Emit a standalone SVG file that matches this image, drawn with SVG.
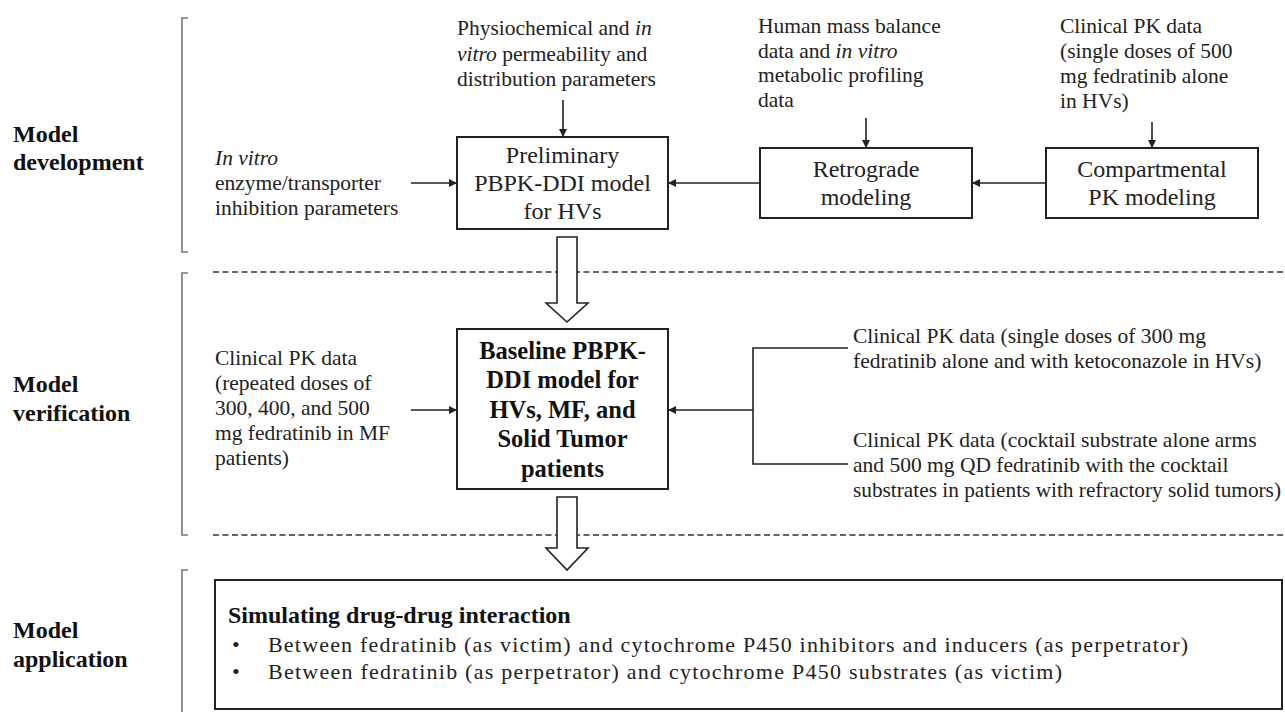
<svg xmlns="http://www.w3.org/2000/svg" width="1285" height="712" viewBox="0 0 1285 712">
<style>
.t{font-family:'Liberation Serif','Times New Roman',serif;font-size:21.5px;fill:#222}
.bt{font-family:'Liberation Serif','Times New Roman',serif;font-size:22px;fill:#222}
.bx{font-family:'Liberation Serif','Times New Roman',serif;font-size:24px;fill:#222;text-anchor:middle}
.bb{font-family:'Liberation Serif','Times New Roman',serif;font-size:24.5px;font-weight:bold;fill:#111;text-anchor:middle}
.lab{font-family:'Liberation Serif','Times New Roman',serif;font-size:24px;font-weight:bold;fill:#111}
.box{fill:#fff;stroke:#222;stroke-width:2}
.ln{fill:none;stroke:#222;stroke-width:1.6}
.br{fill:none;stroke:#777;stroke-width:1.6}
.dash{fill:none;stroke:#333;stroke-width:1.6;stroke-dasharray:6 3.5}
.hol{fill:#fff;stroke:#222;stroke-width:1.6;stroke-linejoin:miter}
</style>
<defs>
<marker id="ah" viewBox="0 0 10 10" refX="10" refY="5" markerWidth="8" markerHeight="8" markerUnits="userSpaceOnUse" orient="auto">
<path d="M0,0 L10,5 L0,10 Z" fill="#222"/>
</marker>
</defs>

<g id="section-labels">
<text class="lab" x="13" y="142">Model</text>
<text class="lab" x="13" y="170">development</text>
<text class="lab" x="13" y="392">Model</text>
<text class="lab" x="13" y="421">verification</text>
<text class="lab" x="13" y="638">Model</text>
<text class="lab" x="13" y="667">application</text>
</g>

<g id="brackets">
<path class="br" d="M188,18 H182 V252 H188"/>
<path class="br" d="M188,273 H182 V535 H188"/>
<path class="br" d="M188,570 H182 V712"/>
</g>

<g id="dividers">
<line class="dash" x1="213" y1="272" x2="1285" y2="272"/>
<line class="dash" x1="213" y1="535" x2="1285" y2="535"/>
</g>

<g id="input-invitro">
<text class="t" x="215" y="165"><tspan font-style="italic">In vitro</tspan></text>
<text class="t" x="215" y="190">enzyme/transporter</text>
<text class="t" x="215" y="215">inhibition parameters</text>
</g>

<g id="input-physio">
<text class="t" x="457" y="35">Physiochemical and <tspan font-style="italic">in</tspan></text>
<text class="t" x="457" y="61"><tspan font-style="italic">vitro</tspan> permeability and</text>
<text class="t" x="457" y="86">distribution parameters</text>
</g>

<g id="input-massbalance">
<text class="t" x="758" y="33">Human mass balance</text>
<text class="t" x="758" y="58">data and <tspan font-style="italic">in vitro</tspan></text>
<text class="t" x="758" y="82">metabolic profiling</text>
<text class="t" x="758" y="107">data</text>
</g>

<g id="input-clinical-sd500">
<text class="t" x="1060" y="33">Clinical PK data</text>
<text class="t" x="1060" y="58">(single doses of 500</text>
<text class="t" x="1060" y="83">mg fedratinib alone</text>
<text class="t" x="1060" y="108">in HVs)</text>
</g>

<g id="node-preliminary">
<rect class="box" x="457" y="137" width="211" height="92"/>
<text class="bx" x="562.5" y="163">Preliminary</text>
<text class="bx" x="562.5" y="191">PBPK-DDI model</text>
<text class="bx" x="562.5" y="219">for HVs</text>
</g>

<g id="node-retrograde">
<rect class="box" x="760" y="148" width="212" height="70"/>
<text class="bx" x="866" y="177">Retrograde</text>
<text class="bx" x="866" y="205">modeling</text>
</g>

<g id="node-compartmental">
<rect class="box" x="1046" y="148" width="212" height="70"/>
<text class="bx" x="1152" y="177">Compartmental</text>
<text class="bx" x="1152" y="205">PK modeling</text>
</g>

<g id="input-clinical-md">
<text class="t" x="215" y="365">Clinical PK data</text>
<text class="t" x="215" y="390">(repeated doses of</text>
<text class="t" x="215" y="415">300, 400, and 500</text>
<text class="t" x="215" y="440">mg fedratinib in MF</text>
<text class="t" x="215" y="465">patients)</text>
</g>

<g id="node-baseline">
<rect class="box" x="457" y="329" width="211" height="160"/>
<text class="bb" x="562.5" y="358.5">Baseline PBPK-</text>
<text class="bb" x="562.5" y="388">DDI model for</text>
<text class="bb" x="562.5" y="417.5">HVs, MF, and</text>
<text class="bb" x="562.5" y="447">Solid Tumor</text>
<text class="bb" x="562.5" y="476.5">patients</text>
</g>

<g id="input-clinical-keto">
<text class="t" x="853" y="343">Clinical PK data (single doses of 300 mg</text>
<text class="t" x="853" y="368">fedratinib alone and with ketoconazole in HVs)</text>
</g>

<g id="input-clinical-cocktail">
<text class="t" x="853" y="447">Clinical PK data (cocktail substrate alone arms</text>
<text class="t" x="853" y="472">and 500 mg QD fedratinib with the cocktail</text>
<text class="t" x="853" y="497" textLength="428" lengthAdjust="spacingAndGlyphs">substrates in patients with refractory solid tumors)</text>
</g>

<g id="node-application">
<rect class="box" x="215" y="580" width="1067" height="129" stroke-width="2.4"/>
<text class="lab" x="228" y="623" font-size="24.5">Simulating drug-drug interaction</text>
<text class="bt" x="232" y="652">•</text>
<text class="bt" x="268" y="652" textLength="920" lengthAdjust="spacing">Between fedratinib (as victim) and cytochrome P450 inhibitors and inducers (as perpetrator)</text>
<text class="bt" x="232" y="679">•</text>
<text class="bt" x="268" y="679" textLength="794" lengthAdjust="spacing">Between fedratinib (as perpetrator) and cytochrome P450 substrates (as victim)</text>
</g>

<g id="connectors">
<line class="ln" x1="411" y1="183" x2="457" y2="183" marker-end="url(#ah)"/>
<line class="ln" x1="563" y1="100" x2="563" y2="137" marker-end="url(#ah)"/>
<line class="ln" x1="760" y1="183" x2="668" y2="183" marker-end="url(#ah)"/>
<line class="ln" x1="866" y1="118" x2="866" y2="148" marker-end="url(#ah)"/>
<line class="ln" x1="1046" y1="183" x2="972" y2="183" marker-end="url(#ah)"/>
<line class="ln" x1="1152" y1="122" x2="1152" y2="148" marker-end="url(#ah)"/>
<line class="ln" x1="411" y1="410" x2="457" y2="410" marker-end="url(#ah)"/>
<path class="ln" d="M848,348 H753 V464 H848"/>
<line class="ln" x1="753" y1="410" x2="668" y2="410" marker-end="url(#ah)"/>
<path class="hol" d="M557,237 H577 V303 H588 L567,322 L546,303 H557 Z"/>
<path class="hol" d="M557,497 H577 V548 H588 L567,570 L546,548 H557 Z"/>
</g>
</svg>
